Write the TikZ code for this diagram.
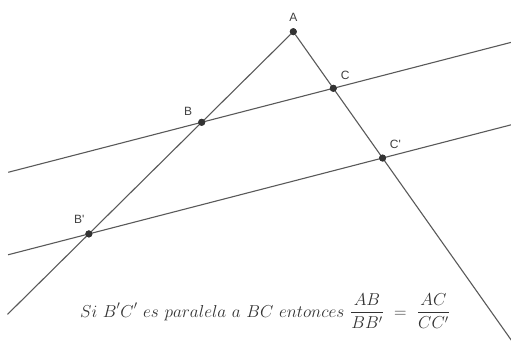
\documentclass[tikz,border=0pt]{standalone}
\usepackage{fontspec}
\newfontfamily\etiqfont{Liberation Sans}
\usetikzlibrary{calc}

\begin{document}
\begin{tikzpicture}[
    x=1pt, y=-1pt,
    punto/.style={circle, fill=black!80, inner sep=0pt, minimum size=7pt},
    recta/.style={draw=black!65, line width=1.1pt},
    every label/.style={font=\etiqfont\fontsize{12}{14}\selectfont, text=black!75, label distance=3pt}
]
    \clip (0,0) rectangle (511,347);

    % 1. Vertice y puntos sobre los lados
    \node[punto, label={90:A}]   (A)  at (293.3,31.7) {};
    \node[punto, label={152:B}]  (B)  at (201.7,122.3) {};
    \node[punto, label={52:C}]   (C)  at (333.3,88.3) {};
    \node[punto, label={97:B'}]  (B1) at ($(A)!2.232!(B)$) {};
    \node[punto, label={55:C'}]  (C1) at ($(A)!2.232!(C)$) {};

    % Extremos de las rectas (borde de la vista)
    \coordinate (AB0) at ($(A)!3.12!(B)$);
    \coordinate (AC0) at ($(A)!5.7!(C)$);
    \coordinate (BC0) at ($(B)!-1.47!(C)$);
    \coordinate (BC1) at ($(B)!2.36!(C)$);
    \coordinate (BD0) at ($(B1)!-0.275!(C1)$);
    \coordinate (BD1) at ($(B1)!1.45!(C1)$);

    % 2. Rectas
    \draw[recta] (A) -- (AB0);
    \draw[recta] (A) -- (AC0);
    \draw[recta] (BC0) -- (BC1);
    \draw[recta] (BD0) -- (BD1);
    \foreach \p in {A,B,C,B1,C1} \node[punto] at (\p) {};

    % 3. Enunciado
    \node[anchor=base, text=black!80, font=\fontsize{18.5}{22}\selectfont] (txt) at (265,317)
        {$\displaystyle Si\ B'C'\ es\ paralela\ a\ BC\ entonces\ \frac{AB}{BB'}\ =\ \frac{AC}{CC'}$};
\end{tikzpicture}
\end{document}
